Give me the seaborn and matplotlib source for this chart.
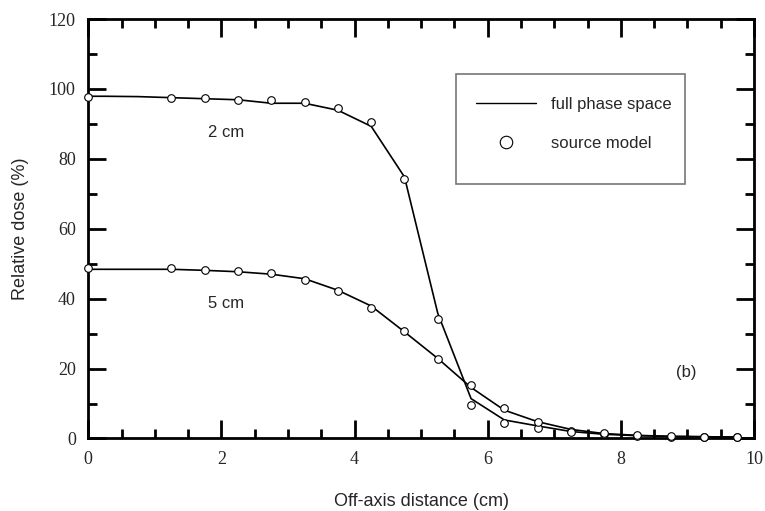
import numpy as np
import pandas as pd
import matplotlib
matplotlib.use("Agg")
import matplotlib.pyplot as plt
import seaborn as sns
from matplotlib.lines import Line2D
from matplotlib.patches import Rectangle
from matplotlib.ticker import MultipleLocator

# ---- data ----
line_x = [0, 0.25, 0.75, 1.25, 1.75, 2.25, 2.75, 3.25, 3.75, 4.25, 4.75,
          5.25, 5.75, 6.25, 6.75, 7.25, 7.75, 8.25, 8.75, 9.25, 9.75]
line_2cm = [97.9, 97.9, 97.8, 97.5, 97.2, 96.9, 95.9, 95.9, 93.9, 89.3, 74.8,
            35.8, 11.4, 5.3, 3.6, 2.0, 1.2, 0.8, 0.6, 0.5, 0.4]
line_5cm = [48.4, 48.4, 48.4, 48.4, 48.1, 47.7, 47.0, 45.7, 42.4, 37.9, 30.5,
            22.9, 14.6, 8.1, 4.8, 2.6, 1.4, 0.9, 0.6, 0.5, 0.4]

pt_x = [0, 1.25, 1.75, 2.25, 2.75, 3.25, 3.75, 4.25, 4.75, 5.25, 5.75,
        6.25, 6.75, 7.25, 7.75, 8.25, 8.75, 9.25, 9.75]
pt_2cm = [97.8, 97.3, 97.5, 96.7, 96.9, 96.4, 94.5, 90.5, 74.1, 34.1, 9.6,
          4.4, 3.0, 2.0, 1.2, 0.8, 0.5, 0.4, 0.3]
pt_5cm = [48.9, 48.9, 48.1, 47.9, 47.2, 45.4, 42.1, 37.2, 30.7, 22.6, 15.3,
          8.8, 4.8, 1.9, 1.5, 0.9, 0.6, 0.5, 0.4]

depth_labels = ["2 cm", "5 cm"]
legend_labels = ["full phase space", "source model"]
x_label = "Off-axis distance (cm)"
y_label = "Relative dose (%)"
panel_label = "(b)"

lines_df = pd.concat([
    pd.DataFrame({"x": line_x, "dose": line_2cm, "depth": depth_labels[0]}),
    pd.DataFrame({"x": line_x, "dose": line_5cm, "depth": depth_labels[1]}),
])
pts_df = pd.concat([
    pd.DataFrame({"x": pt_x, "dose": pt_2cm, "depth": depth_labels[0]}),
    pd.DataFrame({"x": pt_x, "dose": pt_5cm, "depth": depth_labels[1]}),
])

sns.set_style("ticks")
plt.rcParams["font.family"] = ["Liberation Sans", "DejaVu Sans"]

fig = plt.figure(figsize=(7.65, 5.11), dpi=100)
ax = fig.add_axes([0.1154, 0.1419, 0.8702, 0.8209])

sns.lineplot(data=lines_df, x="x", y="dose", units="depth", estimator=None,
             color="black", linewidth=1.2, ax=ax, legend=False, sort=False)
sns.scatterplot(data=pts_df, x="x", y="dose", marker="o", s=30,
                facecolor="white", edgecolor="black", linewidth=0.8,
                ax=ax, legend=False, zorder=3, clip_on=False)

ax.set_xlim(0, 10)
ax.set_ylim(0, 120)
ax.xaxis.set_major_locator(MultipleLocator(2))
ax.xaxis.set_minor_locator(MultipleLocator(0.5))
ax.yaxis.set_major_locator(MultipleLocator(20))
ax.yaxis.set_minor_locator(MultipleLocator(10))
ax.tick_params(which="both", direction="in", top=True, right=True,
               width=2, color="black")
ax.tick_params(which="major", length=13, labelsize=13, pad=9)
ax.tick_params(which="minor", length=6.5)
for lab in ax.get_xticklabels() + ax.get_yticklabels():
    lab.set_fontfamily("Liberation Serif")
for sp in ax.spines.values():
    sp.set_linewidth(2)
    sp.set_color("black")

ax.set_xlabel(x_label, fontsize=13, labelpad=18)
ax.set_ylabel(y_label, fontsize=13, labelpad=14)

ax.text(2.07, 87.5, depth_labels[0], fontsize=12, ha="center", va="center")
ax.text(2.07, 38.6, depth_labels[1], fontsize=12, ha="center", va="center")
ax.text(8.99, 18.8, panel_label, fontsize=12, ha="center", va="center")

# legend box
ax.add_patch(Rectangle((0.553, 0.606), 0.344, 0.264, transform=ax.transAxes,
                       facecolor="white", edgecolor="#777777", linewidth=1.2,
                       zorder=4))
handles = [Line2D([], [], color="black", linewidth=1.0),
           Line2D([], [], color="black", marker="o", linestyle="none",
                  markersize=9, markerfacecolor="white", markeredgewidth=0.8)]
leg = ax.legend(handles, legend_labels, loc="upper left",
                bbox_to_anchor=(0.583, 0.815), frameon=False, fontsize=12,
                handlelength=3.6, handletextpad=0.85, labelspacing=1.45,
                borderpad=0, borderaxespad=0)
leg.set_zorder(5)

fig.savefig("out.png", dpi=100)
